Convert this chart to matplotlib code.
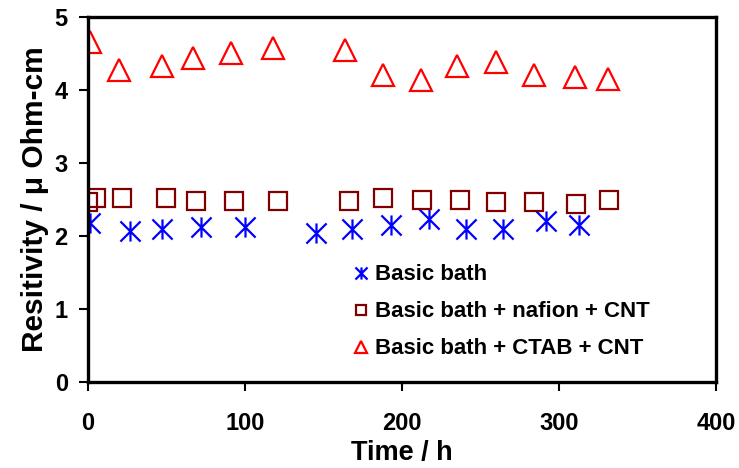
import matplotlib
matplotlib.use("Agg")
import matplotlib.pyplot as plt
from matplotlib.path import Path

# Basic bath
t_basic = [1, 27, 47, 72, 100, 145, 168, 193, 217, 241, 264, 292, 313]
r_basic = [2.17, 2.06, 2.09, 2.12, 2.12, 2.04, 2.09, 2.15, 2.23, 2.09, 2.09, 2.21, 2.15]

# Basic bath + nafion + CNT
t_nafion = [0, 5, 22, 50, 69, 93, 121, 166, 188, 213, 237, 260, 284, 311, 332]
r_nafion = [2.46, 2.52, 2.52, 2.52, 2.48, 2.48, 2.48, 2.48, 2.52, 2.49, 2.49, 2.46, 2.46, 2.43, 2.49]

# Basic bath + CTAB + CNT
t_ctab = [1, 20, 47, 67, 91, 118, 164, 188, 212, 235, 260, 284, 310, 331]
r_ctab = [4.66, 4.27, 4.33, 4.44, 4.50, 4.58, 4.55, 4.21, 4.13, 4.33, 4.38, 4.21, 4.18, 4.15]

plt.rcParams["font.family"] = ["Liberation Sans", "DejaVu Sans"]
plt.rcParams["font.weight"] = "bold"

# Excel-style star: an X plus a vertical bar
star = Path([(-1, -1), (1, 1), (-1, 1), (1, -1), (0, -1), (0, 1)],
            [Path.MOVETO, Path.LINETO, Path.MOVETO, Path.LINETO, Path.MOVETO, Path.LINETO])

fig = plt.figure(figsize=(7.39, 4.68), dpi=100)
ax = fig.add_axes([0.119, 0.184, 0.850, 0.780])

ax.plot(t_basic, r_basic, ls="none", marker=star, ms=14.5, mec="#0000FF", mew=1.6,
        label="Basic bath")
ax.plot(t_nafion, r_nafion, ls="none", marker="s", ms=13, mfc="none", mec="#800000",
        mew=1.6, label="Basic bath + nafion + CNT")
ax.plot(t_ctab, r_ctab, ls="none", marker="^", ms=15.5, mfc="none", mec="#FF0000",
        mew=1.6, label="Basic bath + CTAB + CNT")

ax.set_xlim(0, 400)
ax.set_ylim(0, 5)
ax.set_xticks([0, 100, 200, 300, 400])
ax.set_yticks([0, 1, 2, 3, 4, 5])
for s in ax.spines.values():
    s.set_linewidth(2.4)
ax.tick_params(axis="both", direction="out", length=6.5, width=1.5, labelsize=17)
ax.tick_params(axis="x", pad=15)
ax.tick_params(axis="y", pad=8)

ax.set_xlabel("Time / h", fontsize=19.5, fontweight="bold", labelpad=4)
ax.set_ylabel("Resitivity / μ Ohm-cm", fontsize=21.5, fontweight="bold", labelpad=4)

ax.legend(loc="center left", bbox_to_anchor=(0.392, 0.192), frameon=False,
          markerscale=0.6, handlelength=0.6, handletextpad=0.35, labelspacing=0.72,
          prop={"weight": "bold", "size": 16})

fig.savefig("out.png", dpi=100)
